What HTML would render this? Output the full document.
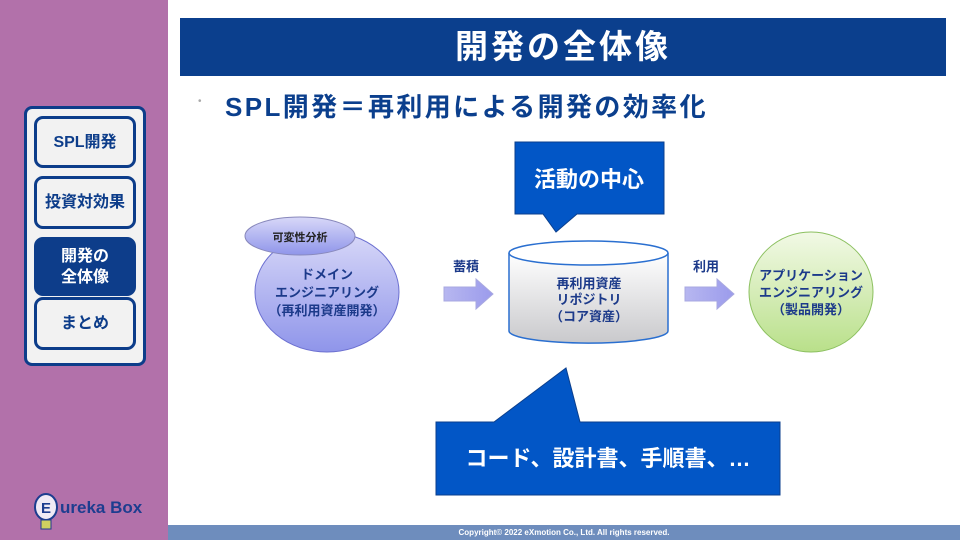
<!DOCTYPE html>
<html><head><meta charset="utf-8"><style>
body{margin:0;width:960px;height:540px;position:relative;overflow:hidden;background:#fff;font-family:"Liberation Sans","Noto Sans CJK JP",sans-serif;}
.abs{position:absolute}
.nav{position:absolute;left:34px;width:96px;border:3px solid #0d3d8a;border-radius:9px;background:#f2f2f2;color:#0d3d8a;font-weight:bold;font-size:16px;display:flex;align-items:center;justify-content:center;text-align:center;line-height:21px}
</style></head><body>
<div class="abs" style="left:0;top:0;width:168px;height:540px;background:#b271aa"></div>
<div class="abs" style="left:168px;top:525px;width:792px;height:15px;background:#6e8dbd;color:#fff;font-size:8px;font-weight:bold;text-align:center;line-height:15px;">Copyright© 2022 eXmotion Co., Ltd. All rights reserved.</div>
<div class="abs" style="left:24px;top:106px;width:116px;height:254px;border:3px solid #0d3d8a;border-radius:8px;background:#f2f2f2"></div>
<div class="nav" style="top:116px;height:46px">SPL開発</div>
<div class="nav" style="top:176px;height:47px">投資対効果</div>
<div class="nav" style="top:237px;height:53px;background:#0d3d8a;color:#fff">開発の<br>全体像</div>
<div class="nav" style="top:297px;height:47px">まとめ</div>
<div class="abs" style="left:60px;top:498px;font-size:17px;font-weight:bold;color:#1d3d8f;">ureka Box</div>
<svg class="abs" style="left:30px;top:480px" width="34" height="52"><ellipse cx="16" cy="27" rx="11" ry="13" fill="#f0eaf5" stroke="#1d3d8f" stroke-width="2"/><text x="11" y="33" font-size="15" font-weight="bold" fill="#1d3d8f" font-family="Liberation Sans">E</text><rect x="11" y="40" width="10" height="9" fill="#cfd060" stroke="#1d3d8f"/></svg>

<div class="abs" style="left:180px;top:18px;width:766px;height:58px;background:#0b3f8d;color:#fff;font-size:33px;font-weight:bold;text-align:center;line-height:58px;letter-spacing:3px">開発の全体像</div>
<div class="abs" style="left:198px;top:96px;color:#aaa;font-size:10px">•</div>
<div class="abs" style="left:225px;top:87px;color:#0b3f8d;font-size:26px;font-weight:bold;letter-spacing:2.4px">SPL開発＝再利用による開発の効率化</div>

<svg class="abs" style="left:0;top:0" width="960" height="540">
<defs>
<linearGradient id="gb" x1="0" y1="0" x2="0" y2="1"><stop offset="0" stop-color="#d8d8f8"/><stop offset="1" stop-color="#8f95ea"/></linearGradient>
<linearGradient id="gg" x1="0" y1="0" x2="0" y2="1"><stop offset="0" stop-color="#f2f9e6"/><stop offset="1" stop-color="#b9e08a"/></linearGradient>
<linearGradient id="gc" x1="0" y1="0" x2="0" y2="1"><stop offset="0" stop-color="#fff"/><stop offset="1" stop-color="#c9c9cc"/></linearGradient>
<linearGradient id="ga" x1="0" y1="0" x2="1" y2="0"><stop offset="0" stop-color="#b7b7f0"/><stop offset="1" stop-color="#9b9bec"/></linearGradient>
</defs>
<ellipse cx="327" cy="292" rx="72" ry="60" fill="url(#gb)" stroke="#6b6fd0"/>
<ellipse cx="300" cy="236" rx="55" ry="19" fill="url(#gb)" stroke="#8888bb"/>
<ellipse cx="811" cy="292" rx="62" ry="60" fill="url(#gg)" stroke="#8cc060"/>
<path d="M509 253 V331 A79 12 0 0 0 668 331 V253" fill="url(#gc)" stroke="#2a6fd0" stroke-width="1.5"/>
<ellipse cx="588.5" cy="253" rx="79.5" ry="12" fill="#fff" stroke="#2a6fd0" stroke-width="1.5"/>
<path d="M444 287 H476 V279 L493 294 L476 309 V301 H444 Z" fill="url(#ga)" stroke="#a8a8e0"/>
<path d="M685 287 H717 V279 L734 294 L717 309 V301 H685 Z" fill="url(#ga)" stroke="#a8a8e0"/>
<path d="M515 142 H664 V214 H577 L556 232 L543 214 H515 Z" fill="#0256c6" stroke="#0b3f8d"/>
<path d="M436 422 H494 L566 368 L580 422 H780 V495 H436 Z" fill="#0256c6" stroke="#0b3f8d"/>
<g font-family="Liberation Sans,Noto Sans CJK JP,sans-serif" font-weight="bold" text-anchor="middle">
<text x="589" y="187" font-size="22" fill="#fff">活動の中心</text>
<text x="608" y="466" font-size="22" fill="#fff">コード、設計書、手順書、…</text>
<text x="300" y="241" font-size="11" fill="#222">可変性分析</text>
<g font-size="13" fill="#1c3a8a">
<text x="327" y="279">ドメイン</text><text x="327" y="297">エンジニアリング</text><text x="327" y="315">（再利用資産開発）</text>
<text x="589" y="288">再利用資産</text><text x="589" y="304">リポジトリ</text><text x="589" y="321">（コア資産）</text>
<text x="811" y="280">アプリケーション</text><text x="811" y="297">エンジニアリング</text><text x="811" y="314">（製品開発）</text>
<text x="466" y="271">蓄積</text><text x="706" y="271">利用</text>
</g></g>
</svg>
</body></html>
